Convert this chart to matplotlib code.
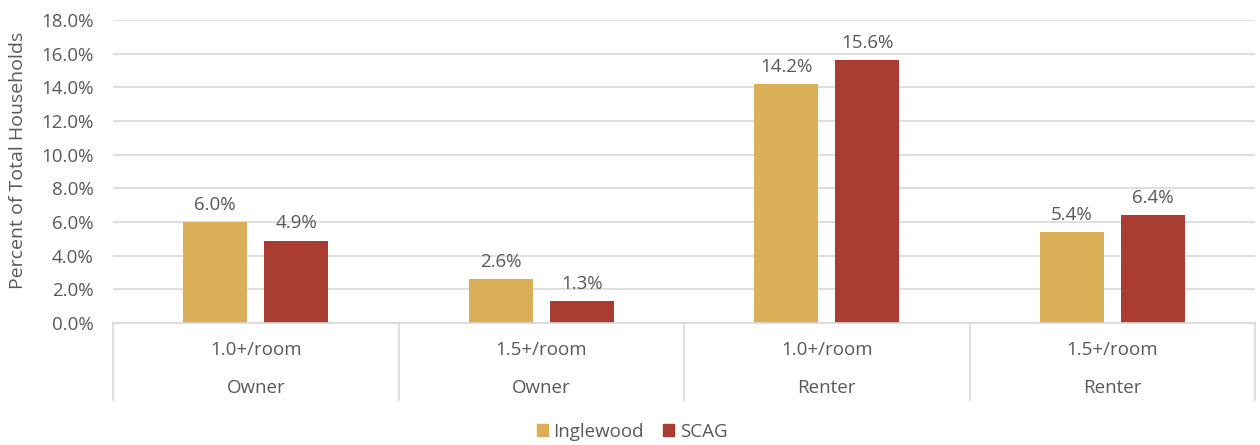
import matplotlib
matplotlib.use("Agg")
import matplotlib.pyplot as plt
import numpy as np
from matplotlib.patches import Patch

sub_labels = ["1.0+/room", "1.5+/room", "1.0+/room", "1.5+/room"]
tenure = ["Owner", "Owner", "Renter", "Renter"]
inglewood = [6.0, 2.6, 14.2, 5.4]
scag = [4.9, 1.3, 15.6, 6.4]
yticks = [0, 2, 4, 6, 8, 10, 12, 14, 16, 18]

plt.rcParams['font.family'] = ['Open Sans', 'DejaVu Sans']
txt = '#595959'
c_ing = '#DBAE58'
c_scag = '#AA3D31'
grid = '#D9D9D9'
fs = 13.5

fig = plt.figure(figsize=(12.6, 4.45), dpi=100)
ax = fig.add_axes([113/1260, 1-323/445, (1255-113)/1260, (323-20)/445])

x = np.arange(len(sub_labels))
w = 0.224
off = 0.142
b1 = ax.bar(x - off, inglewood, w, color=c_ing, zorder=3)
b2 = ax.bar(x + off, scag, w, color=c_scag, zorder=3)
for bars, vals in ((b1, inglewood), (b2, scag)):
    for r, v in zip(bars, vals):
        ax.annotate(f"{v:.1f}%", (r.get_x() + r.get_width()/2, v), xytext=(0, 6),
                    textcoords='offset points', ha='center', va='bottom',
                    fontsize=fs, color=txt)

ax.set_xlim(-0.5, len(sub_labels) - 0.5)
ax.set_ylim(0, 18)
ax.set_yticks(yticks)
ax.set_yticklabels([f"{t:.1f}%" for t in yticks], fontsize=fs, color=txt)
ax.yaxis.grid(True, color=grid, linewidth=1.2, zorder=0)
ax.set_xticks([])
for s in ax.spines.values():
    s.set_visible(False)
ax.tick_params(axis='y', length=0, pad=14)
ax.set_ylabel("Percent of Total Households", fontsize=14, color=txt, labelpad=0)
ax.yaxis.set_label_coords(-(113-27)/1142, 0.538)

# category axis
ax.axhline(0, color=grid, linewidth=1.2, zorder=4, clip_on=False)
trans = ax.get_xaxis_transform()
depth = -(400-323)/303
for b in np.arange(-0.5, len(sub_labels), 1.0):
    ax.plot([b, b], [0, depth], color=grid, linewidth=1.2, transform=trans, clip_on=False)
for i in range(len(sub_labels)):
    ax.text(i, -(350-323)/303, sub_labels[i], transform=trans, ha='center', va='center',
            fontsize=fs, color=txt)
    ax.text(i, -(388-323)/303, tenure[i], transform=trans, ha='center', va='center',
            fontsize=fs, color=txt)

handles = [Patch(color=c_ing, label='Inglewood'), Patch(color=c_scag, label='SCAG')]
fig.legend(handles=handles, loc='center', bbox_to_anchor=(632/1260, 1-432/445), ncol=2,
           frameon=False, fontsize=fs, labelcolor=txt, handlelength=0.6, handleheight=0.6,
           handletextpad=0.3, columnspacing=1.0)

fig.savefig("out.png", dpi=100)
